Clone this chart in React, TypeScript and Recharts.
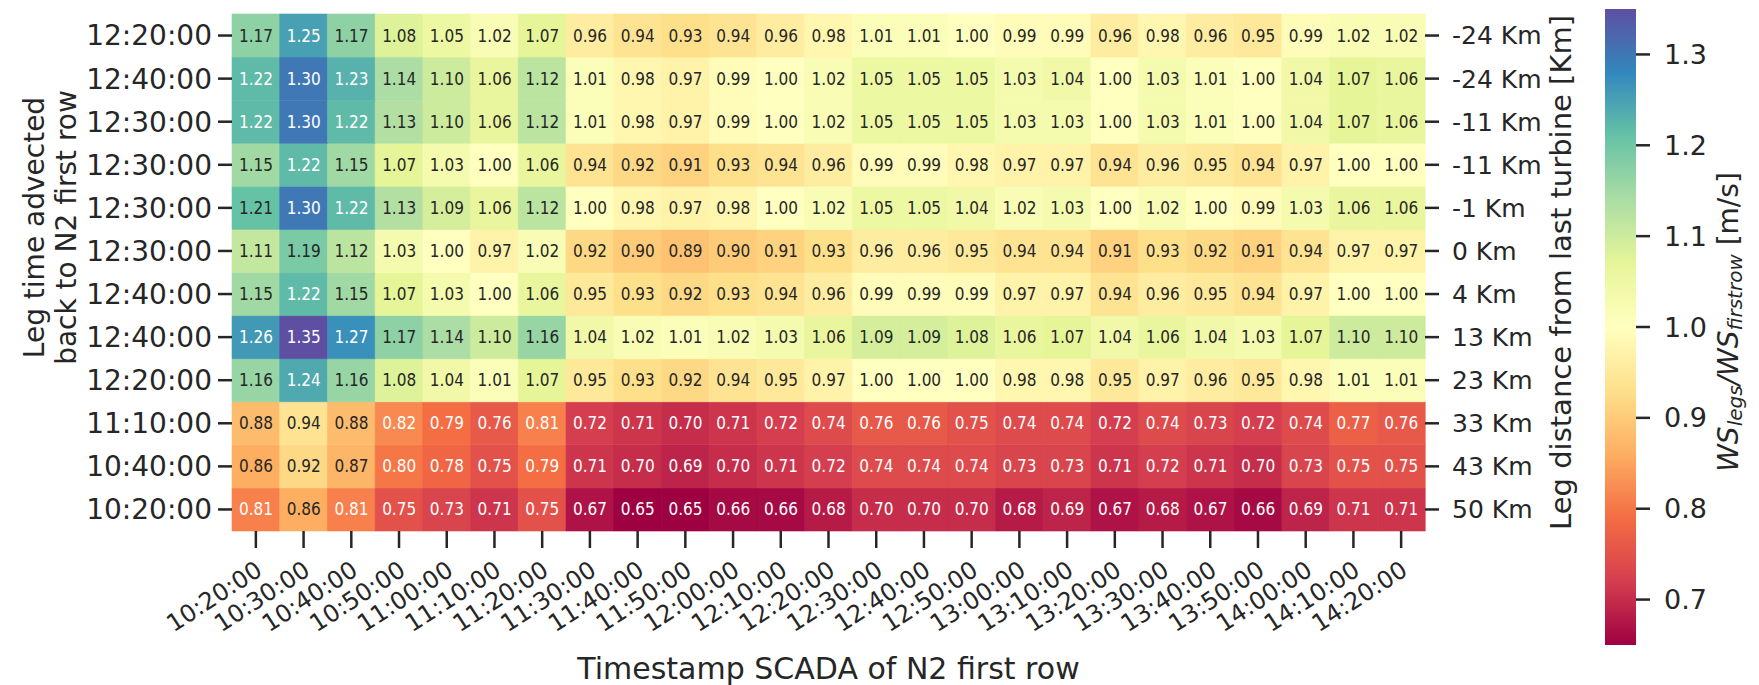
import { Bar, BarChart, Cell, Label, LabelList, XAxis, YAxis } from 'recharts'

// columns: SCADA timestamps of N2 first row
const timestamps = [
  '10:20:00', '10:30:00', '10:40:00', '10:50:00', '11:00:00', '11:10:00', '11:20:00',
  '11:30:00', '11:40:00', '11:50:00', '12:00:00', '12:10:00', '12:20:00', '12:30:00',
  '12:40:00', '12:50:00', '13:00:00', '13:10:00', '13:20:00', '13:30:00', '13:40:00',
  '13:50:00', '14:00:00', '14:10:00', '14:20:00',
]

// rows, top to bottom
const legTimes = [
  '12:20:00', '12:40:00', '12:30:00', '12:30:00', '12:30:00', '12:30:00',
  '12:40:00', '12:40:00', '12:20:00', '11:10:00', '10:40:00', '10:20:00',
]
const legDistances = [
  '-24 Km', '-24 Km', '-11 Km', '-11 Km', '-1 Km', '0 Km',
  '4 Km', '13 Km', '23 Km', '33 Km', '43 Km', '50 Km',
]

// WS_legs / WS_firstrow, one list per leg (row)
const ratios = [
  [1.17, 1.25, 1.17, 1.08, 1.05, 1.02, 1.07, 0.96, 0.94, 0.93, 0.94, 0.96, 0.98, 1.01, 1.01, 1.0, 0.99, 0.99, 0.96, 0.98, 0.96, 0.95, 0.99, 1.02, 1.02],
  [1.22, 1.3, 1.23, 1.14, 1.1, 1.06, 1.12, 1.01, 0.98, 0.97, 0.99, 1.0, 1.02, 1.05, 1.05, 1.05, 1.03, 1.04, 1.0, 1.03, 1.01, 1.0, 1.04, 1.07, 1.06],
  [1.22, 1.3, 1.22, 1.13, 1.1, 1.06, 1.12, 1.01, 0.98, 0.97, 0.99, 1.0, 1.02, 1.05, 1.05, 1.05, 1.03, 1.03, 1.0, 1.03, 1.01, 1.0, 1.04, 1.07, 1.06],
  [1.15, 1.22, 1.15, 1.07, 1.03, 1.0, 1.06, 0.94, 0.92, 0.91, 0.93, 0.94, 0.96, 0.99, 0.99, 0.98, 0.97, 0.97, 0.94, 0.96, 0.95, 0.94, 0.97, 1.0, 1.0],
  [1.21, 1.3, 1.22, 1.13, 1.09, 1.06, 1.12, 1.0, 0.98, 0.97, 0.98, 1.0, 1.02, 1.05, 1.05, 1.04, 1.02, 1.03, 1.0, 1.02, 1.0, 0.99, 1.03, 1.06, 1.06],
  [1.11, 1.19, 1.12, 1.03, 1.0, 0.97, 1.02, 0.92, 0.9, 0.89, 0.9, 0.91, 0.93, 0.96, 0.96, 0.95, 0.94, 0.94, 0.91, 0.93, 0.92, 0.91, 0.94, 0.97, 0.97],
  [1.15, 1.22, 1.15, 1.07, 1.03, 1.0, 1.06, 0.95, 0.93, 0.92, 0.93, 0.94, 0.96, 0.99, 0.99, 0.99, 0.97, 0.97, 0.94, 0.96, 0.95, 0.94, 0.97, 1.0, 1.0],
  [1.26, 1.35, 1.27, 1.17, 1.14, 1.1, 1.16, 1.04, 1.02, 1.01, 1.02, 1.03, 1.06, 1.09, 1.09, 1.08, 1.06, 1.07, 1.04, 1.06, 1.04, 1.03, 1.07, 1.1, 1.1],
  [1.16, 1.24, 1.16, 1.08, 1.04, 1.01, 1.07, 0.95, 0.93, 0.92, 0.94, 0.95, 0.97, 1.0, 1.0, 1.0, 0.98, 0.98, 0.95, 0.97, 0.96, 0.95, 0.98, 1.01, 1.01],
  [0.88, 0.94, 0.88, 0.82, 0.79, 0.76, 0.81, 0.72, 0.71, 0.7, 0.71, 0.72, 0.74, 0.76, 0.76, 0.75, 0.74, 0.74, 0.72, 0.74, 0.73, 0.72, 0.74, 0.77, 0.76],
  [0.86, 0.92, 0.87, 0.8, 0.78, 0.75, 0.79, 0.71, 0.7, 0.69, 0.7, 0.71, 0.72, 0.74, 0.74, 0.74, 0.73, 0.73, 0.71, 0.72, 0.71, 0.7, 0.73, 0.75, 0.75],
  [0.81, 0.86, 0.81, 0.75, 0.73, 0.71, 0.75, 0.67, 0.65, 0.65, 0.66, 0.66, 0.68, 0.7, 0.7, 0.7, 0.68, 0.69, 0.67, 0.68, 0.67, 0.66, 0.69, 0.71, 0.71],
]

const colorTicks = [0.7, 0.8, 0.9, 1.0, 1.1, 1.2, 1.3]
const vmin = 0.65
const vmax = 1.35

const SPECTRAL = [
  '#9e0142', '#d53e4f', '#f46d43', '#fdae61', '#fee08b', '#ffffbf',
  '#e6f598', '#abdda4', '#66c2a5', '#3288bd', '#5e4fa2',
]

const FONT = '"DejaVu Sans", sans-serif'
const INK = '#262626'

const hexRgb = (h: string) => [1, 3, 5].map((k) => parseInt(h.slice(k, k + 2), 16))

function spectral(v: number) {
  const t = Math.min(1, Math.max(0, (v - vmin) / (vmax - vmin))) * 10
  const i = Math.min(9, Math.floor(t))
  const f = t - i
  const a = hexRgb(SPECTRAL[i])
  const b = hexRgb(SPECTRAL[i + 1])
  return a.map((c, k) => c + (b[k] - c) * f)
}

const rgbStr = (c: number[]) => `rgb(${c.map((x) => Math.round(x)).join(',')})`

function luminance(c: number[]) {
  const lin = c.map((x) => {
    const s = x / 255
    return s <= 0.03928 ? s / 12.92 : ((s + 0.055) / 1.055) ** 2.4
  })
  return 0.2126 * lin[0] + 0.7152 * lin[1] + 0.0722 * lin[2]
}

const nRows = legTimes.length
const rowTicks = legTimes.map((_, k) => k + 0.5)
const rowOf = (v: number) => nRows - 1 - Math.floor(v)

const columns = timestamps.map((ts) => {
  const d: Record<string, string | number> = { ts }
  ratios.forEach((_, i) => {
    d[`r${i}`] = 1
  })
  return d
})

const XTick = (props: any) => {
  const { x, y, payload } = props
  return (
    <text
      transform={`translate(${x + 8},${y + 19}) rotate(-33)`}
      textAnchor="end"
      fontSize={24}
      fontFamily={FONT}
      fill={INK}
    >
      {payload.value}
    </text>
  )
}

const cellLabel = (row: number) => (props: any) => {
  const { x, y, width, height, index } = props
  const v = ratios[row][index]
  const dark = luminance(spectral(v)) > 0.408
  return (
    <text
      x={x + width / 2}
      y={y + height / 2}
      textAnchor="middle"
      dominantBaseline="central"
      fontSize={17}
      fontFamily={'"DejaVu Sans Condensed", "DejaVu Sans", sans-serif'}
      style={{ fontStretch: 'condensed' }}
      fill={dark ? INK : '#ffffff'}
    >
      {v.toFixed(2)}
    </text>
  )
}

export default function App() {
  const tickStyle = { fontSize: 28, fill: INK, fontFamily: FONT }
  const sideTick = { fontSize: 25, fill: INK, fontFamily: FONT, textAnchor: 'start' }
  const tickLine = { stroke: INK, strokeWidth: 2.5 }
  return (
    <div
      style={{
        position: 'absolute',
        left: 0,
        top: 0,
        width: 1759,
        height: 685,
        background: '#fff',
        fontFamily: FONT,
      }}
    >
      <div style={{ position: 'absolute', left: 0, top: 0 }}>
        <BarChart
          width={1600}
          height={685}
          data={columns}
          margin={{ top: 14, right: 0, bottom: 0, left: 0 }}
          barCategoryGap={0}
        >
          <XAxis
            dataKey="ts"
            interval={0}
            height={154}
            axisLine={false}
            tickLine={tickLine}
            tickSize={17}
            tickMargin={7}
            tick={<XTick />}
          >
            <Label
              content={({ viewBox }: any) => (
                <text
                  x={viewBox.x + viewBox.width / 2}
                  y={viewBox.y + viewBox.height - 6}
                  textAnchor="middle"
                  fontSize={30}
                  fontFamily={FONT}
                  fill={INK}
                >
                  Timestamp SCADA of N2 first row
                </text>
              )}
            />
          </XAxis>
          <YAxis
            yAxisId="left"
            type="number"
            domain={[0, nRows]}
            ticks={rowTicks}
            tickFormatter={(v: number) => legTimes[rowOf(v)]}
            width={232}
            axisLine={false}
            tickLine={tickLine}
            tickSize={14}
            tickMargin={6}
            tick={tickStyle}
            interval={0}
          >
            <Label
              content={({ viewBox }: any) => {
                const cy = viewBox.y + viewBox.height / 2 - 45
                return (
                  <g>
                    <text
                      transform={`translate(34,${cy}) rotate(-90)`}
                      textAnchor="middle"
                      dominantBaseline="central"
                      fontSize={28}
                      fontFamily={FONT}
                      fill={INK}
                    >
                      Leg time advected
                    </text>
                    <text
                      transform={`translate(66,${cy}) rotate(-90)`}
                      textAnchor="middle"
                      dominantBaseline="central"
                      fontSize={28}
                      fontFamily={FONT}
                      fill={INK}
                    >
                      back to N2 first row
                    </text>
                  </g>
                )
              }}
            />
          </YAxis>
          <YAxis
            yAxisId="right"
            orientation="right"
            type="number"
            domain={[0, nRows]}
            allowDataOverflow
            ticks={rowTicks}
            tickFormatter={(v: number) => legDistances[rowOf(v)]}
            width={175}
            axisLine={false}
            tickLine={tickLine}
            tickSize={14}
            tickMargin={13}
            tick={sideTick}
            interval={0}
          >
            <Label
              content={({ viewBox }: any) => (
                <text
                  transform={`translate(${viewBox.x + 136},${viewBox.y + viewBox.height / 2}) rotate(-90)`}
                  textAnchor="middle"
                  dominantBaseline="central"
                  fontSize={29}
                  fontFamily={FONT}
                  fill={INK}
                >
                  Leg distance from last turbine [Km]
                </text>
              )}
            />
          </YAxis>
          {ratios
            .map((vals, i) => (
              <Bar
                key={i}
                dataKey={`r${i}`}
                stackId="grid"
                yAxisId="left"
                isAnimationActive={false}
              >
                {vals.map((v, j) => {
                  const c = rgbStr(spectral(v))
                  return <Cell key={j} fill={c} stroke={c} strokeWidth={0.6} />
                })}
                <LabelList dataKey={`r${i}`} content={cellLabel(i)} />
              </Bar>
            ))
            .reverse()}
        </BarChart>
      </div>
      <div style={{ position: 'absolute', left: 1600, top: 0 }}>
        <BarChart
          width={159}
          height={685}
          data={[{ name: 'cb', span: [vmin, vmax] }]}
          margin={{ top: 9, right: 0, bottom: 40, left: 5 }}
          barCategoryGap={0}
        >
          <defs>
            <linearGradient id="spectralBar" x1="0" y1="1" x2="0" y2="0">
              {SPECTRAL.map((c, k) => (
                <stop key={k} offset={k / 10} stopColor={c} />
              ))}
            </linearGradient>
          </defs>
          <XAxis dataKey="name" hide />
          <YAxis
            orientation="right"
            type="number"
            domain={[vmin, vmax]}
            ticks={colorTicks}
            tickFormatter={(v: number) => v.toFixed(1)}
            width={123}
            axisLine={false}
            tickLine={tickLine}
            tickSize={14}
            tickMargin={14}
            tick={{ ...sideTick, fontSize: 27 }}
            interval={0}
          >
            <Label
              content={({ viewBox }: any) => (
                <text
                  transform={`translate(${viewBox.x + 92},${viewBox.y + viewBox.height / 2 - 5}) rotate(-90)`}
                  textAnchor="middle"
                  dominantBaseline="central"
                  fontSize={28}
                  fontFamily={FONT}
                  fill={INK}
                >
                  <tspan fontStyle="italic">WS</tspan>
                  <tspan fontStyle="italic" fontSize={20} dy={7}>legs</tspan>
                  <tspan fontStyle="italic" dy={-7}>/WS</tspan>
                  <tspan fontStyle="italic" fontSize={20} dy={7}>firstrow</tspan>
                  <tspan dy={-7}> [m/s]</tspan>
                </text>
              )}
            />
          </YAxis>
          <Bar dataKey="span" fill="url(#spectralBar)" isAnimationActive={false} />
        </BarChart>
      </div>
    </div>
  )
}
